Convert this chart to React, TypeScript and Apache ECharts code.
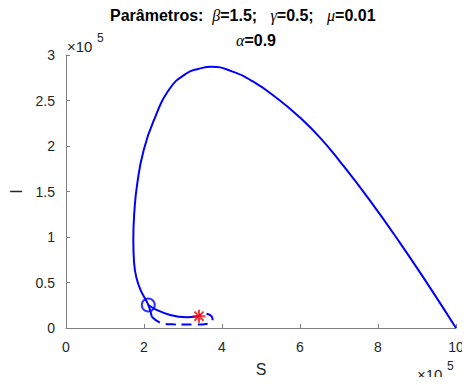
import React, { useEffect, useRef } from "react";
import * as echarts from "echarts";

// Values in units of 1e5
const xTicks = [0, 2, 4, 6, 8, 10];
const yTicks = [0, 0.5, 1, 1.5, 2, 2.5, 3];

// Main trajectory (solid), S and I
const mainS = [10, 9.333, 8.564, 7.795, 7.026, 6.513, 6.0, 5.444, 4.803, 4.256, 3.736, 3.385, 3.095, 2.667, 2.238, 1.982, 1.828, 1.756, 1.726, 1.744, 1.808, 1.923, 2.11, 2.2];
const mainI = [0, 0.444, 0.936, 1.4, 1.829, 2.092, 2.312, 2.514, 2.707, 2.82, 2.871, 2.846, 2.799, 2.634, 2.267, 1.937, 1.59, 1.297, 0.967, 0.725, 0.549, 0.407, 0.253, 0.124];

// Branch from circle toward the equilibrium (solid)
const branchS = [2.11, 2.32, 2.67, 3.09, 3.41];
const branchI = [0.253, 0.2, 0.143, 0.118, 0.13];

// Dashed spiral around the equilibrium
const dashS = [2.2, 2.45, 2.75, 3.05, 3.31, 3.6, 3.73, 3.76, 3.69, 3.52, 3.41];
const dashI = [0.124, 0.052, 0.04, 0.038, 0.038, 0.045, 0.07, 0.1, 0.143, 0.16, 0.13];

const circlePt = [2.11, 0.253];
const starPt = [3.41, 0.13];

const zip = (a: number[], b: number[]) => a.map((v, i) => [v, b[i]]);

export default function App() {
  const ref = useRef<HTMLDivElement>(null);
  useEffect(() => {
    if (!ref.current) return;
    const chart = echarts.init(ref.current, null, { renderer: "svg" });
    const axisColor = "#808080";
    const textColor = "#262626";
    const font = "Liberation Sans, Arial, sans-serif";
    const rich = {
      b: { fontSize: 16, fontWeight: "bold", fontFamily: font, fill: "#000" },
      g: { fontSize: 16, fontStyle: "italic", fontFamily: "Liberation Serif, serif", fill: "#000" },
    };
    chart.setOption({
      animation: false,
      backgroundColor: "#ffffff",
      grid: { left: 66, right: 14, top: 55, bottom: 57, containLabel: false },
      xAxis: {
        type: "value",
        min: xTicks[0],
        max: xTicks[xTicks.length - 1],
        interval: 2,
        name: "S",
        nameLocation: "middle",
        nameGap: 33,
        nameTextStyle: { fontSize: 16, color: textColor, fontFamily: font },
        axisLine: { show: true, lineStyle: { color: axisColor, width: 1 } },
        axisTick: { show: true, inside: true, length: 4, lineStyle: { color: axisColor } },
        axisLabel: { fontSize: 14, color: textColor, fontFamily: font, margin: 12 },
        splitLine: { show: false },
      },
      yAxis: {
        type: "value",
        min: yTicks[0],
        max: yTicks[yTicks.length - 1],
        interval: 0.5,
        name: "I",
        nameLocation: "middle",
        nameRotate: 90,
        nameGap: 40,
        nameTextStyle: { fontSize: 16, color: textColor, fontFamily: font },
        axisLine: { show: true, lineStyle: { color: axisColor, width: 1 } },
        axisTick: { show: true, inside: true, length: 4, lineStyle: { color: axisColor } },
        axisLabel: { fontSize: 14, color: textColor, fontFamily: font, margin: 11 },
        splitLine: { show: false },
      },
      graphic: [
        {
          type: "text",
          left: 256 - 146,
          top: 7,
          style: {
            text: "{b|Parâmetros:  }{g|β}{b|=1.5;   }{g|γ}{b|=0.5;   }{g|μ}{b|=0.01}",
            rich,
          },
        },
        {
          type: "text",
          x: 256,
          y: 40,
          style: { text: "{g|α}{b|=0.9}", align: "center", verticalAlign: "middle", rich },
        },
        { type: "text", x: 67, y: 46, style: { text: "×10", fontSize: 15, fontFamily: font, fill: textColor, verticalAlign: "middle" } },
        { type: "text", x: 97, y: 38, style: { text: "5", fontSize: 12, fontFamily: font, fill: textColor, verticalAlign: "middle" } },
        { type: "text", x: 417, y: 374, style: { text: "×10", fontSize: 15, fontFamily: font, fill: textColor, verticalAlign: "middle" } },
        { type: "text", x: 447, y: 366, style: { text: "5", fontSize: 12, fontFamily: font, fill: textColor, verticalAlign: "middle" } },
      ],
      series: [
        {
          type: "line",
          data: zip(mainS, mainI),
          smooth: 0.5,
          showSymbol: false,
          lineStyle: { color: "#0000ff", width: 2 },
        },
        {
          type: "line",
          data: zip(branchS, branchI),
          smooth: 0.4,
          showSymbol: false,
          lineStyle: { color: "#0000ff", width: 2 },
        },
        {
          type: "line",
          data: zip(dashS, dashI),
          smooth: 0.4,
          showSymbol: false,
          lineStyle: { color: "#0000ff", width: 2, type: [10, 6] },
        },
        {
          type: "scatter",
          data: [circlePt],
          symbol: "circle",
          symbolSize: 13,
          itemStyle: { color: "rgba(0,0,0,0)", borderColor: "#0000ff", borderWidth: 2 },
          z: 5,
        },
        {
          type: "scatter",
          data: [starPt],
          symbol: "path://M6,0L6,12M0,6L12,6M1.8,1.8L10.2,10.2M1.8,10.2L10.2,1.8",
          symbolSize: 13,
          itemStyle: { color: "rgba(0,0,0,0)", borderColor: "#ff0000", borderWidth: 2 },
          z: 6,
        },
      ],
    });
    return () => chart.dispose();
  }, []);
  return <div ref={ref} style={{ width: 470, height: 385, margin: -8 }} />;
}
